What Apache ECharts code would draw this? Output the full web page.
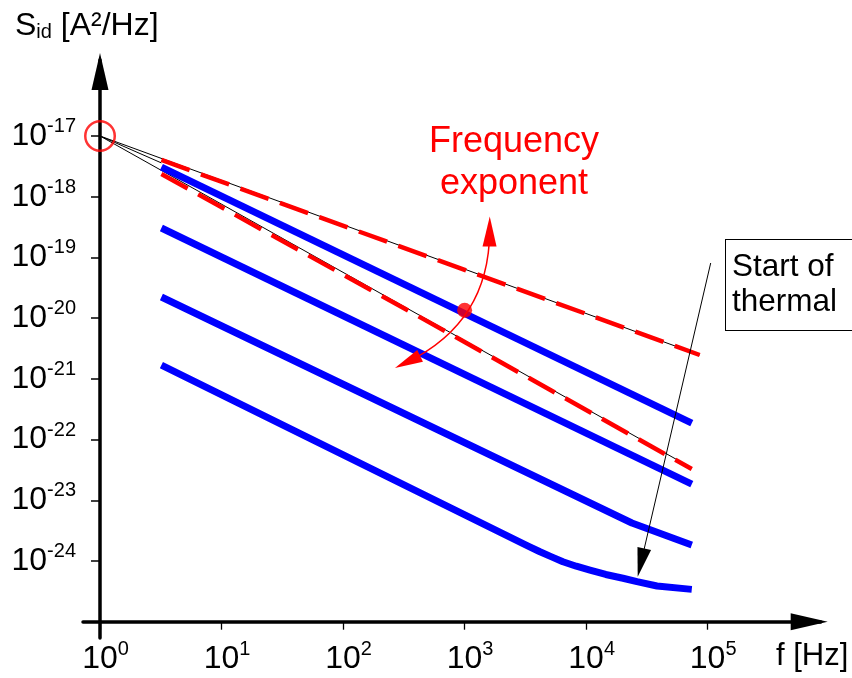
<!DOCTYPE html>
<html><head><meta charset="utf-8">
<script src="https://cdn.jsdelivr.net/npm/echarts@6/dist/echarts.min.js"></script>
<style>html,body{margin:0;padding:0;background:#fff}#c{width:852px;height:678px}</style>
</head><body><div id="c"></div>
<script>
// ---- tick positions (decade exponents) ----
const xTickExps = [0, 1, 2, 3, 4, 5];
const yTickExps = [-24, -23, -22, -21, -20, -19, -18, -17];

// ---- measured noise spectra (f in Hz, S in A^2/Hz) ----
const blue1F = [3.2, 74000];
const blue1S = [3.08e-18, 1.87e-22];
const blue2F = [3.2, 74000];
const blue2S = [3.05e-19, 1.85e-23];
const blue3F = [3.2, 23800, 74000];
const blue3S = [2.23e-20, 4.22e-24, 1.83e-24];
const blue4F = [3.2, 3300, 4170, 5200, 6440, 8300, 10750, 14500, 20100, 26200, 38300, 74000];
const blue4S = [1.69e-21, 1.78e-24, 1.42e-24, 1.17e-24, 9.7e-25, 8.2e-25, 7.1e-25, 6.0e-25, 5.2e-25, 4.56e-25, 3.87e-25, 3.41e-25];

// ---- red dashed fits ----
const fitUpF = [3.2, 86000];
const fitUpS = [4.03e-18, 2.47e-21];
const fitLowF = [3.2, 713, 74000];
const fitLowS = [2.37e-18, 5.91e-21, 3.27e-23];

// ---- thin black asymptotes from a common origin ----
const originPt = [1, 1e-17];
const thinEndF = [86000, 3.2, 74000];
const thinEndS = [2.47e-21, 3.6e-18, 3.4e-23];

// ---- annotation anchors (data space) ----
const dotPt = [1000, 1.35e-20];
const expArrowFrom = [1607, 2.67e-19];
const expArrowTo = [339, 1.90e-21];
const thermalFrom = [105900, 8.09e-20];
const thermalTo = [28270, 9.4e-25];

const FF = '"Liberation Sans", Arial, Helvetica, sans-serif';
const L = Math.log10;
const pts = (F, S) => F.map((f, i) => [L(f), L(S[i])]);
const P = p => [L(p[0]), L(p[1])];

const series = [];
thinEndF.forEach((f, i) => series.push({
  type: 'line', data: [P(originPt), [L(f), L(thinEndS[i])]], symbol: 'none',
  lineStyle: {color: '#000', width: 1}, z: 2, silent: true, animation: false
}));
[[fitUpF, fitUpS], [fitLowF, fitLowS]].forEach(([F, S]) => series.push({
  type: 'line', data: pts(F, S), symbol: 'none',
  lineStyle: {color: '#ff0000', width: 4.5, type: [30, 12]}, z: 3, silent: true, animation: false
}));
[[blue1F, blue1S], [blue2F, blue2S], [blue3F, blue3S], [blue4F, blue4S]].forEach(([F, S]) => series.push({
  type: 'line', data: pts(F, S), symbol: 'none', smooth: false,
  lineStyle: {color: '#0000ff', width: 7, join: 'round'}, z: 4, silent: true, animation: false
}));
// red circle at origin and red dot
series.push({
  type: 'scatter', data: [P(originPt)], symbol: 'circle', symbolSize: 29.5, z: 6, silent: true, animation: false,
  itemStyle: {color: 'rgba(0,0,0,0)', borderColor: '#ff0000', borderWidth: 2.5}
});
series.push({
  type: 'scatter', data: [P(dotPt)], symbol: 'circle', symbolSize: 15, z: 6, silent: true, animation: false,
  itemStyle: {color: '#ff0000'}
});
// curved double arrow (frequency exponent)
series.push({
  type: 'lines', coordinateSystem: 'cartesian2d', z: 7, silent: true, animation: false,
  symbol: ['triangle', 'triangle'], symbolSize: [[14, 30], [13, 28]],
  lineStyle: {color: '#ff0000', width: 1.5, opacity: 1, curveness: 0.31},
  data: [{coords: [P(expArrowFrom), P(expArrowTo)]}]
});
// start of thermal arrow
series.push({
  type: 'lines', coordinateSystem: 'cartesian2d', z: 7, silent: true, animation: false,
  symbol: ['none', 'triangle'], symbolSize: [[1, 1], [14, 29]],
  lineStyle: {color: '#000', width: 1, opacity: 1, curveness: 0},
  data: [{coords: [P(thermalFrom), P(thermalTo)]}]
});

const richLbl = {
  b: {fontSize: 32, lineHeight: 39, color: '#000', fontFamily: FF},
  s: {fontSize: 20, lineHeight: 20, verticalAlign: 'top', color: '#000', fontFamily: FF}
};
const lbl = v => '{b|10}{s|' + Math.round(v) + '}';

const chart = echarts.init(document.getElementById('c'), null, {renderer: 'canvas'});
chart.setOption({
  animation: false,
  backgroundColor: '#fff',
  textStyle: {fontFamily: FF},
  title: {
    text: '{a|S}{b|id}{a| [A²/Hz]}', left: 15, top: 10.5, padding: 0,
    textStyle: {fontWeight: 'normal', rich: {
      a: {fontSize: 32, lineHeight: 32, fontFamily: FF, color: '#000', fontWeight: 'normal'},
      b: {fontSize: 20, lineHeight: 20, verticalAlign: 'bottom', fontFamily: FF, color: '#000', fontWeight: 'normal'}
    }}
  },
  grid: {left: 83, right: 31.3, top: 60.1, bottom: 39.9, containLabel: false, outerBoundsMode: 'none'},
  xAxis: {
    type: 'value', min: -0.14, max: 5.93, offset: -16.4,
    axisLine: {show: true, onZero: false, lineStyle: {color: '#000', width: 3.5},
      symbol: ['none', 'triangle'], symbolSize: [17, 37], symbolOffset: [0, -11.5]},
    axisTick: {show: true, customValues: xTickExps, length: 8, lineStyle: {color: '#000', width: 1.3}},
    axisLabel: {show: true, customValues: xTickExps, formatter: lbl, margin: 18, padding: [0, 0, 0, 11], rich: richLbl},
    splitLine: {show: false}
  },
  yAxis: {
    type: 'value', min: -25.27, max: -15.75, offset: -17,
    axisLine: {show: true, onZero: false, lineStyle: {color: '#000', width: 3.5},
      symbol: ['none', 'triangle'], symbolSize: [17, 37], symbolOffset: [0, -11.5]},
    axisTick: {show: true, customValues: yTickExps, length: 9, lineStyle: {color: '#000', width: 1.5}},
    axisLabel: {show: true, customValues: yTickExps, formatter: lbl, margin: 24, rich: richLbl},
    splitLine: {show: false}
  },
  graphic: [
    {type: 'text', x: 776, y: 656, silent: true, style: {text: 'f [Hz]', font: '31px ' + FF, fill: '#000', align: 'left', verticalAlign: 'middle'}},
    {type: 'text', x: 514, y: 163, silent: true, style: {text: 'Frequency\nexponent', font: '36px ' + FF, lineHeight: 42, fill: '#ff0000', align: 'center', verticalAlign: 'middle'}},
    {type: 'text', x: 726, y: 240, silent: true, style: {text: 'Start of\nthermal', font: '31.5px ' + FF, lineHeight: 35, fill: '#000', align: 'left', verticalAlign: 'top',
      padding: [10, 30, 10, 6], borderColor: '#000', borderWidth: 1, backgroundColor: '#fff'}}
  ],
  series: series
});
</script></body></html>
